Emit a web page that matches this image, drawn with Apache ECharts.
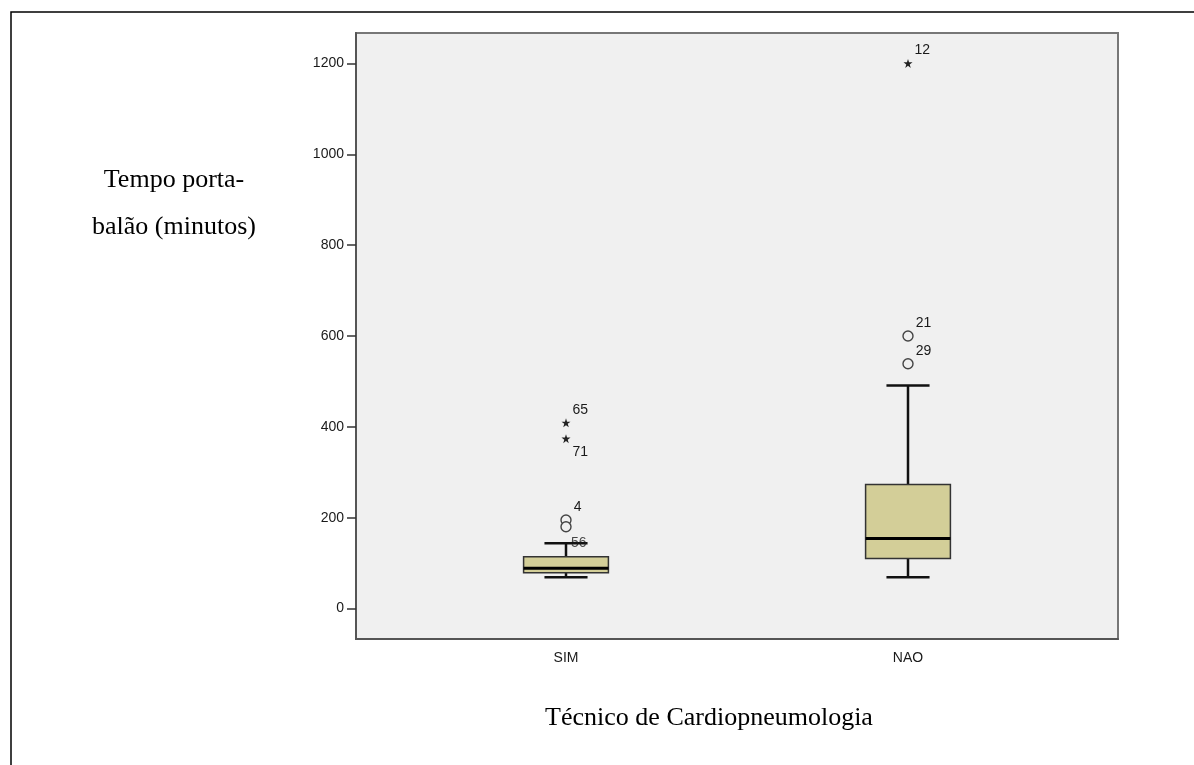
<!DOCTYPE html>
<html>
<head>
<meta charset="utf-8">
<script src="https://cdn.jsdelivr.net/npm/echarts@6/dist/echarts.min.js"></script>
<style>
  html, body { margin: 0; padding: 0; background: #fff; }
  #chart { width: 1194px; height: 765px; }
</style>
</head>
<body>
<div id="chart"></div>
<script>
// categorias e estatísticas das caixas
var categories = ['SIM', 'NAO'];
var boxMin = [69, 69];
var boxQ1 = [79, 110];
var boxMedian = [89, 154];
var boxQ3 = [114, 273];
var boxMax = [144, 491];

// outliers (círculos) e extremos (estrelas)
var circleCat = [0, 0, 1, 1];
var circleVal = [195, 180, 600, 539];
var circleLabel = ['4', '', '21', '29'];
var starCat = [0, 0, 1];
var starVal = [409, 374, 1200];
var starLabel = ['65', '71', '12'];
// rótulo sem símbolo visível, junto ao bigode
var tagCat = [0];
var tagVal = [144];
var tagLabel = ['56'];

var yTicks = [0, 200, 400, 600, 800, 1000, 1200];

var STAR = 'path://M50,0L61.2,34.5L97.6,34.5L68.2,55.9L79.4,90.5L50,69.1L20.6,90.5L31.8,55.9L2.4,34.5L38.8,34.5Z';
var below = { '71': true };

var boxData = categories.map(function (c, i) {
  return [i, boxMin[i], boxQ1[i], boxMedian[i], boxQ3[i], boxMax[i]];
});

function pointItems(cats, vals, labels) {
  return cats.map(function (c, i) {
    return {
      value: [c, vals[i]],
      label: {
        show: labels[i] !== '',
        formatter: labels[i],
        position: 'right',
        distance: 2,
        offset: [0, below[labels[i]] ? 13 : -13]
      }
    };
  });
}

function renderBox(params, api) {
  var x = api.value(0);
  var pMin = api.coord([x, api.value(1)]);
  var pQ1 = api.coord([x, api.value(2)]);
  var pMed = api.coord([x, api.value(3)]);
  var pQ3 = api.coord([x, api.value(4)]);
  var pMax = api.coord([x, api.value(5)]);
  var band = api.size([1, 0])[0];
  var half = band * 0.124;
  var cap = band * 0.063;
  var cx = pMed[0];
  var whisker = { stroke: '#111', lineWidth: 2.5 };
  return {
    type: 'group',
    children: [
      { type: 'line', shape: { x1: cx, y1: pQ3[1], x2: cx, y2: pMax[1] }, style: whisker },
      { type: 'line', shape: { x1: cx, y1: pQ1[1], x2: cx, y2: pMin[1] }, style: whisker },
      { type: 'line', shape: { x1: cx - cap, y1: pMax[1], x2: cx + cap, y2: pMax[1] }, style: whisker },
      { type: 'line', shape: { x1: cx - cap, y1: pMin[1], x2: cx + cap, y2: pMin[1] }, style: whisker },
      {
        type: 'rect',
        shape: { x: cx - half, y: pQ3[1], width: half * 2, height: pQ1[1] - pQ3[1] },
        style: { fill: '#d3ce98', stroke: '#333', lineWidth: 1.5 }
      },
      { type: 'line', shape: { x1: cx - half, y1: pMed[1], x2: cx + half, y2: pMed[1] }, style: { stroke: '#000', lineWidth: 3 } }
    ]
  };
}

var chart = echarts.init(document.getElementById('chart'));

var yRange = { min: -67, max: 1267 };
var tickFont = { fontFamily: 'Liberation Sans', fontSize: 14, color: '#1a1a1a' };

var option = {
  animation: false,
  backgroundColor: '#fff',
  textStyle: { fontFamily: 'Liberation Sans' },
  grid: [
    // área de dados
    { left: 395, right: 115, top: 33, bottom: 126, show: false },
    // moldura do gráfico
    { left: 356, right: 76, top: 33, bottom: 126, show: true, backgroundColor: '#f0f0f0', borderColor: '#777', borderWidth: 2, z: 0 }
  ],
  xAxis: [
    {
      type: 'category', gridIndex: 0, data: categories,
      axisLine: { show: false },
      axisTick: { alignWithLabel: true, length: 9, lineStyle: { color: '#333', width: 1.5 } },
      axisLabel: Object.assign({ margin: 12 }, tickFont)
    },
    {
      type: 'value', gridIndex: 1, min: 0, max: 1,
      axisLine: { show: true, onZero: false, lineStyle: { color: '#555', width: 2 } },
      axisTick: { show: false }, axisLabel: { show: false }, splitLine: { show: false }
    }
  ],
  yAxis: [
    {
      type: 'value', gridIndex: 0, min: yRange.min, max: yRange.max,
      axisLine: { show: false }, axisTick: { show: false }, axisLabel: { show: false }, splitLine: { show: false }
    },
    {
      type: 'value', gridIndex: 1, min: yRange.min, max: yRange.max,
      axisLine: { show: true, lineStyle: { color: '#555', width: 2 } },
      axisTick: { show: true, length: 9, customValues: yTicks, lineStyle: { color: '#333', width: 1.5 } },
      axisLabel: Object.assign({ margin: 12, customValues: yTicks, formatter: function (v) { return String(v); } }, tickFont),
      splitLine: { show: false }
    }
  ],
  series: [
    {
      type: 'custom', xAxisIndex: 0, yAxisIndex: 0,
      renderItem: renderBox,
      encode: { x: 0, y: [1, 2, 3, 4, 5] },
      data: boxData, z: 3
    },
    {
      type: 'scatter', xAxisIndex: 0, yAxisIndex: 0,
      symbol: 'circle', symbolSize: 10,
      itemStyle: { color: '#f0f0f0', borderColor: '#444', borderWidth: 1.4, opacity: 1 },
      label: tickFont,
      data: pointItems(circleCat, circleVal, circleLabel), z: 4
    },
    {
      type: 'scatter', xAxisIndex: 0, yAxisIndex: 0,
      symbol: STAR, symbolSize: 9,
      itemStyle: { color: '#222', opacity: 1 },
      label: tickFont,
      data: pointItems(starCat, starVal, starLabel), z: 4
    },
    {
      type: 'scatter', xAxisIndex: 0, yAxisIndex: 0,
      symbolSize: 0,
      label: Object.assign({ show: true, position: 'right', distance: 5, formatter: function (p) { return tagLabel[p.dataIndex]; } }, tickFont),
      data: tagCat.map(function (c, i) { return [c, tagVal[i]]; }), z: 5
    }
  ],
  graphic: [
    {
      type: 'rect', silent: true, z: -1,
      shape: { x: 11, y: 12, width: 1300, height: 900 },
      style: { fill: 'none', stroke: '#000', lineWidth: 1.5 }
    },
    {
      type: 'text', x: 174, y: 204, silent: true,
      style: {
        text: 'Tempo porta-\nbalão (minutos)', textAlign: 'center', textVerticalAlign: 'middle',
        lineHeight: 47, fontFamily: 'Liberation Serif', fontSize: 26, fill: '#000'
      }
    },
    {
      type: 'text', x: 709, y: 718, silent: true,
      style: {
        text: 'Técnico de Cardiopneumologia', textAlign: 'center', textVerticalAlign: 'middle',
        fontFamily: 'Liberation Serif', fontSize: 26, fill: '#000'
      }
    }
  ]
};

chart.setOption(option);
</script>
</body>
</html>
